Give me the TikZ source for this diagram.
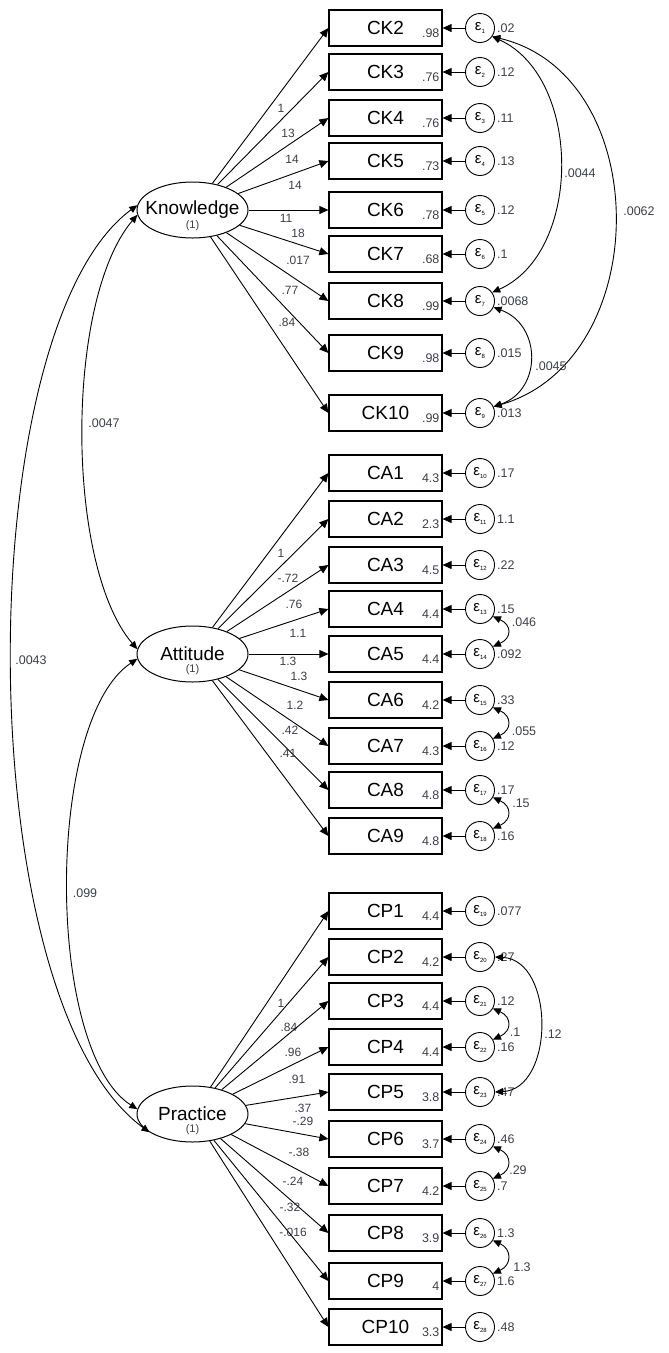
\documentclass[tikz,border=0pt]{standalone}
\usepackage{fontspec}
\setmainfont{Liberation Sans}
\usetikzlibrary{arrows.meta, shapes.geometric}
\newcommand{\px}{1pt}
\newcommand{\eps}[1]{ε\raisebox{-3pt}{\fontsize{6}{6}\selectfont #1}}
\definecolor{valgray}{RGB}{58,62,72}

\begin{document}
\begin{tikzpicture}[x=\px, y=-\px]
\useasboundingbox (0,0) rectangle (669,1353);
\tikzstyle{obs}=[draw, line width=1.2pt, minimum width=113pt, minimum height=36pt, inner sep=0pt,
                 font=\fontsize{19}{19}\selectfont]
\tikzstyle{lat}=[draw, ellipse, line width=1pt, minimum width=111pt, minimum height=56pt, inner sep=0pt]
\tikzstyle{latname}=[inner sep=0pt, font=\fontsize{19}{19}\selectfont]
\tikzstyle{onelbl}=[inner sep=0pt, yshift=-16pt, text=valgray, font=\fontsize{11}{11}\selectfont]
\tikzstyle{err}=[draw, circle, line width=0.9pt, minimum size=29pt, inner sep=0pt, font=\fontsize{15}{15}\selectfont]
\tikzstyle{numval}=[inner sep=1pt, text=valgray, font=\fontsize{12.5}{12.5}\selectfont]
\tikzstyle{meanval}=[numval, anchor=east, xshift=-2pt, yshift=-5pt]
\tikzstyle{varval}=[numval, anchor=west, xshift=1pt]
\tikzstyle{ldval}=[numval, font=\fontsize{12}{12}\selectfont]
\tikzstyle{arr}=[line width=0.9pt, -{Triangle[length=9pt,width=8pt]}]
\tikzstyle{cov}=[line width=0.9pt, {Triangle[length=8pt,width=7pt]}-{Triangle[length=8pt,width=7pt]}]

% latent variables
\node[lat] (K) at (192.5,210) {};  \node[latname] at (K) {Knowledge};  \node[onelbl] at (K) {(1)};
\node[lat] (A) at (192.5,654) {};  \node[latname] at (A) {Attitude};   \node[onelbl] at (A) {(1)};
\node[lat] (P) at (192.5,1114) {}; \node[latname] at (P) {Practice};   \node[onelbl] at (P) {(1)};

% knowledge items
\node[obs] (ck2) at (385.5,28) {CK2};    \node[meanval] at (ck2.east) {.98};
\node[obs] (ck3) at (385.5,72) {CK3};    \node[meanval] at (ck3.east) {.76};
\node[obs] (ck4) at (385.5,118) {CK4};   \node[meanval] at (ck4.east) {.76};
\node[obs] (ck5) at (385.5,161) {CK5};   \node[meanval] at (ck5.east) {.73};
\node[obs] (ck6) at (385.5,210) {CK6};   \node[meanval] at (ck6.east) {.78};
\node[obs] (ck7) at (385.5,254) {CK7};   \node[meanval] at (ck7.east) {.68};
\node[obs] (ck8) at (385.5,301) {CK8};   \node[meanval] at (ck8.east) {.99};
\node[obs] (ck9) at (385.5,353) {CK9};   \node[meanval] at (ck9.east) {.98};
\node[obs] (ck10) at (385.5,413) {CK10}; \node[meanval] at (ck10.east) {.99};

% attitude items
\node[obs] (ca1) at (385.5,473) {CA1};   \node[meanval] at (ca1.east) {4.3};
\node[obs] (ca2) at (385.5,519) {CA2};   \node[meanval] at (ca2.east) {2.3};
\node[obs] (ca3) at (385.5,565) {CA3};   \node[meanval] at (ca3.east) {4.5};
\node[obs] (ca4) at (385.5,609) {CA4};   \node[meanval] at (ca4.east) {4.4};
\node[obs] (ca5) at (385.5,654) {CA5};   \node[meanval] at (ca5.east) {4.4};
\node[obs] (ca6) at (385.5,700) {CA6};   \node[meanval] at (ca6.east) {4.2};
\node[obs] (ca7) at (385.5,746) {CA7};   \node[meanval] at (ca7.east) {4.3};
\node[obs] (ca8) at (385.5,790) {CA8};   \node[meanval] at (ca8.east) {4.8};
\node[obs] (ca9) at (385.5,836) {CA9};   \node[meanval] at (ca9.east) {4.8};

% practice items
\node[obs] (cp1) at (385.5,911) {CP1};   \node[meanval] at (cp1.east) {4.4};
\node[obs] (cp2) at (385.5,957) {CP2};   \node[meanval] at (cp2.east) {4.2};
\node[obs] (cp3) at (385.5,1001) {CP3};  \node[meanval] at (cp3.east) {4.4};
\node[obs] (cp4) at (385.5,1047) {CP4};  \node[meanval] at (cp4.east) {4.4};
\node[obs] (cp5) at (385.5,1092) {CP5};  \node[meanval] at (cp5.east) {3.8};
\node[obs] (cp6) at (385.5,1139) {CP6};  \node[meanval] at (cp6.east) {3.7};
\node[obs] (cp7) at (385.5,1186) {CP7};  \node[meanval] at (cp7.east) {4.2};
\node[obs] (cp8) at (385.5,1233) {CP8};  \node[meanval] at (cp8.east) {3.9};
\node[obs] (cp9) at (385.5,1281) {CP9};  \node[meanval] at (cp9.east) {4};
\node[obs] (cp10) at (385.5,1327) {CP10}; \node[meanval] at (cp10.east) {3.3};

% error terms
\node[err] (e1) at (480,28) {\eps{1}};     \node[varval] at (e1.east) {.02};    \draw[arr] (e1) -- (ck2);
\node[err] (e2) at (480,72) {\eps{2}};     \node[varval] at (e2.east) {.12};    \draw[arr] (e2) -- (ck3);
\node[err] (e3) at (480,118) {\eps{3}};    \node[varval] at (e3.east) {.11};    \draw[arr] (e3) -- (ck4);
\node[err] (e4) at (480,161) {\eps{4}};    \node[varval] at (e4.east) {.13};    \draw[arr] (e4) -- (ck5);
\node[err] (e5) at (480,210) {\eps{5}};    \node[varval] at (e5.east) {.12};    \draw[arr] (e5) -- (ck6);
\node[err] (e6) at (480,254) {\eps{6}};    \node[varval] at (e6.east) {.1};     \draw[arr] (e6) -- (ck7);
\node[err] (e7) at (480,301) {\eps{7}};    \node[varval] at (e7.east) {.0068};  \draw[arr] (e7) -- (ck8);
\node[err] (e8) at (480,353) {\eps{8}};    \node[varval] at (e8.east) {.015};   \draw[arr] (e8) -- (ck9);
\node[err] (e9) at (480,413) {\eps{9}};    \node[varval] at (e9.east) {.013};   \draw[arr] (e9) -- (ck10);
\node[err] (e10) at (480,473) {\eps{10}};  \node[varval] at (e10.east) {.17};   \draw[arr] (e10) -- (ca1);
\node[err] (e11) at (480,519) {\eps{11}};  \node[varval] at (e11.east) {1.1};   \draw[arr] (e11) -- (ca2);
\node[err] (e12) at (480,565) {\eps{12}};  \node[varval] at (e12.east) {.22};   \draw[arr] (e12) -- (ca3);
\node[err] (e13) at (480,609) {\eps{13}};  \node[varval] at (e13.east) {.15};   \draw[arr] (e13) -- (ca4);
\node[err] (e14) at (480,654) {\eps{14}};  \node[varval] at (e14.east) {.092};  \draw[arr] (e14) -- (ca5);
\node[err] (e15) at (480,700) {\eps{15}};  \node[varval] at (e15.east) {.33};   \draw[arr] (e15) -- (ca6);
\node[err] (e16) at (480,746) {\eps{16}};  \node[varval] at (e16.east) {.12};   \draw[arr] (e16) -- (ca7);
\node[err] (e17) at (480,790) {\eps{17}};  \node[varval] at (e17.east) {.17};   \draw[arr] (e17) -- (ca8);
\node[err] (e18) at (480,836) {\eps{18}};  \node[varval] at (e18.east) {.16};   \draw[arr] (e18) -- (ca9);
\node[err] (e19) at (480,911) {\eps{19}};  \node[varval] at (e19.east) {.077};  \draw[arr] (e19) -- (cp1);
\node[err] (e20) at (480,957) {\eps{20}};  \node[varval] at (e20.east) {.27};   \draw[arr] (e20) -- (cp2);
\node[err] (e21) at (480,1001) {\eps{21}}; \node[varval] at (e21.east) {.12};   \draw[arr] (e21) -- (cp3);
\node[err] (e22) at (480,1047) {\eps{22}}; \node[varval] at (e22.east) {.16};   \draw[arr] (e22) -- (cp4);
\node[err] (e23) at (480,1092) {\eps{23}}; \node[varval] at (e23.east) {.47};   \draw[arr] (e23) -- (cp5);
\node[err] (e24) at (480,1139) {\eps{24}}; \node[varval] at (e24.east) {.46};   \draw[arr] (e24) -- (cp6);
\node[err] (e25) at (480,1186) {\eps{25}}; \node[varval] at (e25.east) {.7};    \draw[arr] (e25) -- (cp7);
\node[err] (e26) at (480,1233) {\eps{26}}; \node[varval] at (e26.east) {1.3};   \draw[arr] (e26) -- (cp8);
\node[err] (e27) at (480,1281) {\eps{27}}; \node[varval] at (e27.east) {1.6};   \draw[arr] (e27) -- (cp9);
\node[err] (e28) at (480,1327) {\eps{28}}; \node[varval] at (e28.east) {.48};   \draw[arr] (e28) -- (cp10);

% loadings
\draw[arr] (K) -- (ck2.west);   \node[ldval] at (281,108) {1};
\draw[arr] (K) -- (ck3.west);   \node[ldval] at (288,133) {13};
\draw[arr] (K) -- (ck4.west);   \node[ldval] at (292,159) {14};
\draw[arr] (K) -- (ck5.west);   \node[ldval] at (295,185) {14};
\draw[arr] (K) -- (ck6.west);   \node[ldval] at (286,218) {11};
\draw[arr] (K) -- (ck7.west);   \node[ldval] at (298,233) {18};
\draw[arr] (K) -- (ck8.west);   \node[ldval] at (298,260) {.017};
\draw[arr] (K) -- (ck9.west);   \node[ldval] at (290,290) {.77};
\draw[arr] (K) -- (ck10.west);  \node[ldval] at (287,322) {.84};

\draw[arr] (A) -- (ca1.west);   \node[ldval] at (281,553) {1};
\draw[arr] (A) -- (ca2.west);   \node[ldval] at (288,578) {-.72};
\draw[arr] (A) -- (ca3.west);   \node[ldval] at (294,604) {.76};
\draw[arr] (A) -- (ca4.west);   \node[ldval] at (298,633) {1.1};
\draw[arr] (A) -- (ca5.west);   \node[ldval] at (288,661) {1.3};
\draw[arr] (A) -- (ca6.west);   \node[ldval] at (299,676) {1.3};
\draw[arr] (A) -- (ca7.west);   \node[ldval] at (295,705) {1.2};
\draw[arr] (A) -- (ca8.west);   \node[ldval] at (290,730) {.42};
\draw[arr] (A) -- (ca9.west);   \node[ldval] at (288,753) {.41};

\draw[arr] (P) -- (cp1.west);   \node[ldval] at (281,1003) {1};
\draw[arr] (P) -- (cp2.west);   \node[ldval] at (289,1027) {.84};
\draw[arr] (P) -- (cp3.west);   \node[ldval] at (293,1052) {.96};
\draw[arr] (P) -- (cp4.west);   \node[ldval] at (297,1079) {.91};
\draw[arr] (P) -- (cp5.west);   \node[ldval] at (303,1108) {.37};
\draw[arr] (P) -- (cp6.west);   \node[ldval] at (303,1121) {-.29};
\draw[arr] (P) -- (cp7.west);   \node[ldval] at (299,1152) {-.38};
\draw[arr] (P) -- (cp8.west);   \node[ldval] at (293,1181) {-.24};
\draw[arr] (P) -- (cp9.west);   \node[ldval] at (290,1207) {-.32};
\draw[arr] (P) -- (cp10.west);  \node[ldval] at (293,1232) {-.016};

% covariances between latents
\draw[cov] (K.175) .. controls (-32,330) and (-32,1000) .. (P.203);  \node[numval] at (31,660) {.0043};
\draw[cov] (K.185) .. controls (65,300) and (65,565) .. (A.175);      \node[numval] at (104,423) {.0047};
\draw[cov] (A.185) .. controls (45,720) and (45,1050) .. (P.175);     \node[numval] at (85,893) {.099};

% covariances between errors
\draw[cov] (e1.-35) .. controls (582,77) and (583,252) .. (e7.35);    \node[numval] at (580,173) {.0044};
\draw[cov] (e1.-35) .. controls (655,75) and (655,360) .. (e9.25);    \node[numval] at (639,211) {.0062};
\draw[cov] (e7.-25) .. controls (542,325) and (542,390) .. (e9.25);   \node[numval] at (551,366) {.0045};
\draw[cov] (e13.-30) .. controls (512,625) and (512,638) .. (e14.30); \node[numval] at (524,622) {.046};
\draw[cov] (e15.-30) .. controls (512,716) and (512,730) .. (e16.30); \node[numval] at (524,731) {.055};
\draw[cov] (e17.-30) .. controls (512,806) and (512,820) .. (e18.30); \node[numval] at (521,803) {.15};
\draw[cov] (e20.east) .. controls (555,960) and (555,1089) .. (e23.east); \node[numval] at (553,1034) {.12};
\draw[cov] (e21.-30) .. controls (512,1017) and (512,1031) .. (e22.30); \node[numval] at (515,1032) {.1};
\draw[cov] (e24.-30) .. controls (512,1155) and (512,1170) .. (e25.30); \node[numval] at (518,1170) {.29};
\draw[cov] (e26.-30) .. controls (512,1249) and (512,1265) .. (e27.30); \node[numval] at (522,1267) {1.3};

\end{tikzpicture}
\end{document}
